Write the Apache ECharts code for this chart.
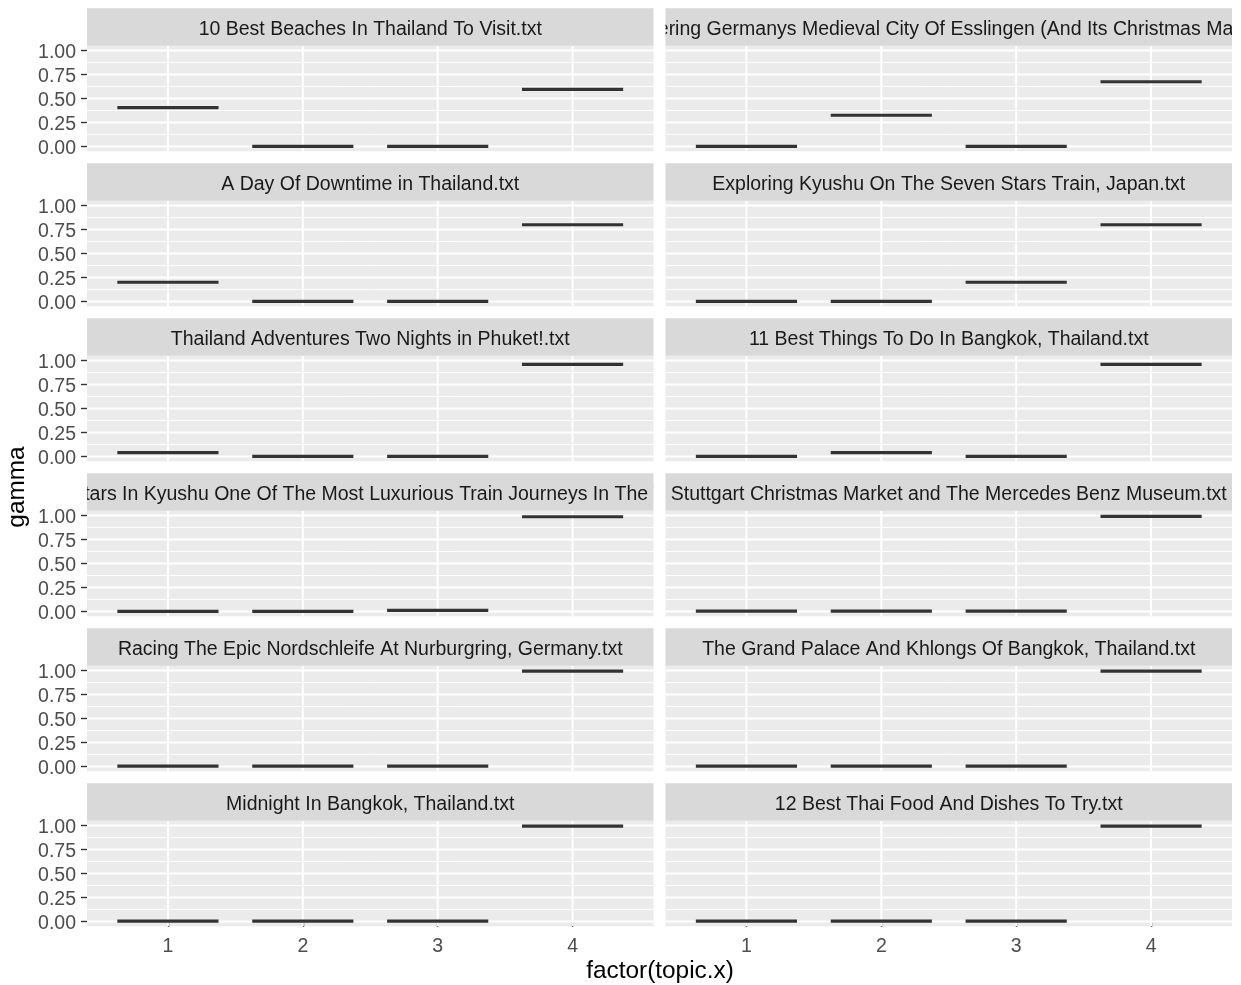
<!DOCTYPE html>
<html><head><meta charset="utf-8">
<script src="https://cdn.jsdelivr.net/npm/echarts@6/dist/echarts.min.js"></script>
<style>html,body{margin:0;padding:0;background:#fff}#c{width:1241px;height:985px}</style>
</head><body><div id="c"></div>
<script>
// ---------- data ----------
const topics = [1, 2, 3, 4];
const xTickLabels = ['1', '2', '3', '4'];
const yTicks = [0, 0.25, 0.5, 0.75, 1];
const yMinor = [0.125, 0.375, 0.625, 0.875];
const docTitles = [
  '10 Best Beaches In Thailand To Visit.txt',
  'Discovering Germanys Medieval City Of Esslingen (And Its Christmas Market).txt',
  'A Day Of Downtime in Thailand.txt',
  'Exploring Kyushu On The Seven Stars Train, Japan.txt',
  'Thailand Adventures Two Nights in Phuket!.txt',
  '11 Best Things To Do In Bangkok, Thailand.txt',
  'Seven Stars In Kyushu One Of The Most Luxurious Train Journeys In The World.txt',
  'Stuttgart Christmas Market and The Mercedes Benz Museum.txt',
  'Racing The Epic Nordschleife At Nurburgring, Germany.txt',
  'The Grand Palace And Khlongs Of Bangkok, Thailand.txt',
  'Midnight In Bangkok, Thailand.txt',
  '12 Best Thai Food And Dishes To Try.txt'
];
const gammaBeaches    = [0.405, 0.000, 0.000, 0.595];
const gammaEsslingen  = [0.000, 0.325, 0.000, 0.675];
const gammaDowntime   = [0.200, 0.000, 0.000, 0.800];
const gammaSevenTrain = [0.000, 0.000, 0.200, 0.800];
const gammaPhuket     = [0.040, 0.000, 0.000, 0.960];
const gammaBangkok11  = [0.000, 0.040, 0.000, 0.960];
const gammaLuxurious  = [0.001, 0.001, 0.010, 0.988];
const gammaStuttgart  = [0.003, 0.003, 0.003, 0.991];
const gammaNurburg    = [0.002, 0.002, 0.002, 0.994];
const gammaPalace     = [0.002, 0.002, 0.002, 0.994];
const gammaMidnight   = [0.002, 0.002, 0.002, 0.994];
const gammaThaiFood   = [0.002, 0.002, 0.002, 0.994];
const docGamma = [gammaBeaches, gammaEsslingen, gammaDowntime, gammaSevenTrain, gammaPhuket,
  gammaBangkok11, gammaLuxurious, gammaStuttgart, gammaNurburg, gammaPalace, gammaMidnight, gammaThaiFood];

// ---------- layout ----------
const FONT = '"Liberation Sans", Arial, sans-serif';
const colLeft = [87, 665.5];
const panelW = 566.5;
const rowPitch = 155.0;
const stripTop0 = 8.2;
const stripH = 37.6;
const panelH = 105.4;
const X_MIN = 0.4, X_MAX = 4.6, Y_MIN = -0.05, Y_MAX = 1.05;

const grids = [], xAxes = [], yAxes = [], series = [];
docTitles.forEach((t, i) => {
  const col = i % 2, row = Math.floor(i / 2);
  const top = stripTop0 + stripH + row * rowPitch;
  grids.push({left: colLeft[col], top: top, width: panelW, height: panelH,
    show: true, backgroundColor: '#EBEBEB', borderWidth: 0, containLabel: false, outerBoundsMode: 'none'});
  const bottomRow = row === 5;
  xAxes.push({type: 'value', gridIndex: i, min: X_MIN, max: X_MAX,
    axisLine: {show: false}, splitLine: {show: false},
    axisTick: {show: bottomRow, customValues: topics, length: 5.5, lineStyle: {color: '#333333', width: 1.4}},
    axisLabel: {show: bottomRow, customValues: topics, margin: 10, color: '#4D4D4D', fontSize: 19.5, fontFamily: FONT,
      formatter: v => xTickLabels[topics.indexOf(Math.round(v))]}
  });
  yAxes.push({type: 'value', gridIndex: i, min: Y_MIN, max: Y_MAX,
    axisLine: {show: false}, splitLine: {show: false},
    axisTick: {show: col === 0, customValues: yTicks, length: 6, lineStyle: {color: '#333333', width: 1.4}},
    axisLabel: {show: col === 0, customValues: yTicks, margin: 11,
      formatter: v => '{a|' + v.toFixed(2) + '}',
      rich: {a: {color: '#4D4D4D', fontSize: 19.5, fontFamily: FONT, padding: [5, 0, 0, 0]}}}
  });
  // gridlines
  series.push({type: 'custom', xAxisIndex: i, yAxisIndex: i, silent: true, z: 1,
    data: [[1, 0]], encode: {x: 0, y: 1},
    renderItem: (params, api) => {
      const ch = [];
      const hline = (v, w) => { const a = api.coord([X_MIN, v]), b = api.coord([X_MAX, v]);
        ch.push({type: 'line', shape: {x1: a[0], y1: a[1], x2: b[0], y2: b[1]}, style: {stroke: '#FFFFFF', lineWidth: w}}); };
      yMinor.forEach(v => hline(v, 1));
      yTicks.forEach(v => hline(v, 2));
      topics.forEach(v => { const a = api.coord([v, Y_MIN]), b = api.coord([v, Y_MAX]);
        ch.push({type: 'line', shape: {x1: a[0], y1: a[1], x2: b[0], y2: b[1]}, style: {stroke: '#FFFFFF', lineWidth: 2}}); });
      return {type: 'group', children: ch};
    }
  });
  // median lines (boxplots of single values)
  series.push({type: 'custom', xAxisIndex: i, yAxisIndex: i, silent: true, z: 3,
    data: topics.map((tp, j) => [tp, docGamma[i][j]]), encode: {x: 0, y: 1},
    renderItem: (params, api) => {
      const x = api.value(0), y = api.value(1);
      const a = api.coord([x - 0.375, y]), b = api.coord([x + 0.375, y]);
      return {type: 'line', shape: {x1: a[0], y1: a[1], x2: b[0], y2: b[1]},
        style: {stroke: '#333333', lineWidth: 3.2, lineCap: 'butt'}};
    }
  });
});

// strips
series.push({type: 'custom', coordinateSystem: 'none', silent: true, z: 5,
  data: docTitles.map((t, i) => [i]),
  renderItem: (params, api) => {
    const i = params.dataIndex, col = i % 2, row = Math.floor(i / 2);
    const x = colLeft[col], y = stripTop0 + row * rowPitch;
    return {type: 'group', children: [
      {type: 'rect', shape: {x: x, y: y, width: panelW, height: stripH}, style: {fill: '#D9D9D9'}},
      {type: 'group',
        clipPath: {type: 'rect', shape: {x: x, y: y, width: panelW, height: stripH}},
        children: [
          {type: 'text', x: x + panelW / 2, y: y + stripH / 2 + 3,
            style: {text: docTitles[i], fontSize: 19.5, fontFamily: FONT, fill: '#1A1A1A', align: 'center', verticalAlign: 'middle'}}
        ]}
    ]};
  }
});

const chart = echarts.init(document.getElementById('c'), null, {renderer: 'canvas'});
chart.setOption({
  animation: false,
  backgroundColor: '#FFFFFF',
  grid: grids, xAxis: xAxes, yAxis: yAxes, series: series,
  graphic: [
    {type: 'text', x: 660, y: 971, style: {text: 'factor(topic.x)', font: '24.4px ' + FONT, fill: '#000000', textAlign: 'center', verticalAlign: 'middle'}},
    {type: 'text', x: 17, y: 487, rotation: Math.PI / 2, style: {text: 'gamma', font: '24.4px ' + FONT, fill: '#000000', textAlign: 'center', verticalAlign: 'middle'}}
  ]
});
</script>
</body></html>
